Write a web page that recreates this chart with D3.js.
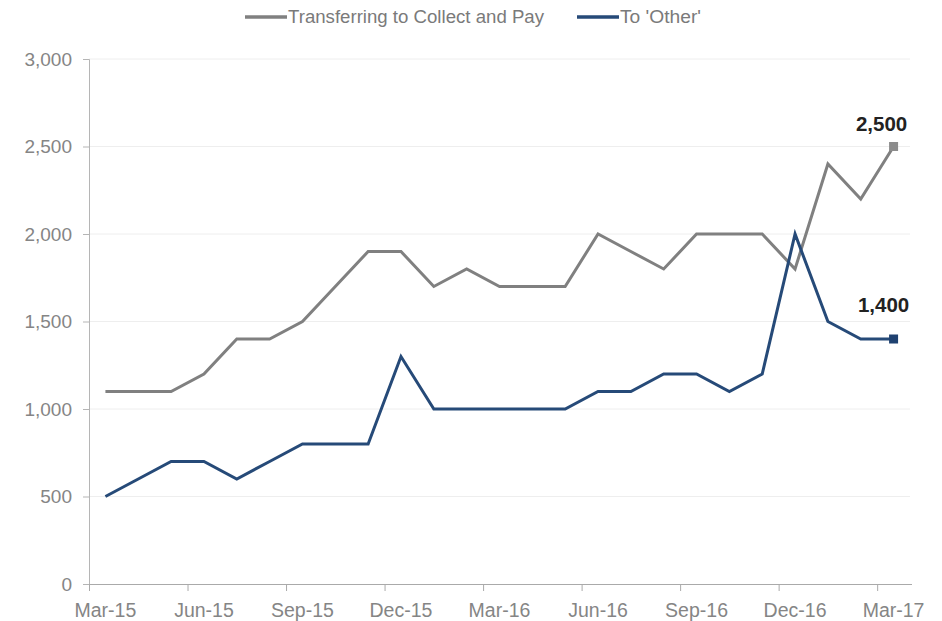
<!DOCTYPE html>
<html>
<head>
<meta charset="utf-8">
<script src="https://cdn.jsdelivr.net/npm/d3@7"></script>
<style>
  html, body { margin: 0; padding: 0; background: #fff; }
  svg { display: block; font-family: "Liberation Sans", Arial, sans-serif; }
</style>
</head>
<body>
<svg id="chart" width="942" height="621"></svg>
<script>
// Monthly periods, Mar-15 .. Mar-17
const months = [
  "Mar-15","Apr-15","May-15","Jun-15","Jul-15","Aug-15","Sep-15","Oct-15","Nov-15",
  "Dec-15","Jan-16","Feb-16","Mar-16","Apr-16","May-16","Jun-16","Jul-16","Aug-16",
  "Sep-16","Oct-16","Nov-16","Dec-16","Jan-17","Feb-17","Mar-17"
];

// Quarterly axis labels
const tickLabels = ["Mar-15","Jun-15","Sep-15","Dec-15","Mar-16","Jun-16","Sep-16","Dec-16","Mar-17"];

const collectAndPay = [
  1100, 1100, 1100, 1200, 1400, 1400, 1500, 1700, 1900,
  1900, 1700, 1800, 1700, 1700, 1700, 2000, 1900, 1800,
  2000, 2000, 2000, 1800, 2400, 2200, 2500
];

const toOther = [
  500, 600, 700, 700, 600, 700, 800, 800, 800,
  1300, 1000, 1000, 1000, 1000, 1000, 1100, 1100, 1200,
  1200, 1100, 1200, 2000, 1500, 1400, 1400
];

const seriesNames = ["Transferring to Collect and Pay", "To 'Other'"];
const yTicks = [0, 500, 1000, 1500, 2000, 2500, 3000];

const colors = { grey: "#808080", greyMarker: "#8c8c8c", blue: "#264a78", blueMarker: "#1f4170" };

const svg = d3.select("#chart");
const plot = { left: 89, right: 910, top: 59, bottom: 584 };

// Each month occupies a band; points sit at band centres, tick marks at band edges
const x = d3.scaleBand().domain(months).range([plot.left, plot.right]).paddingInner(0).paddingOuter(0);
const y = d3.scaleLinear().domain([0, 3000]).range([plot.bottom, plot.top]);
const cx = m => x(m) + x.bandwidth() / 2;

// Horizontal gridlines
svg.append("g")
  .selectAll("line")
  .data(yTicks.filter(d => d > 0))
  .join("line")
  .attr("x1", plot.left).attr("x2", plot.right)
  .attr("y1", d => y(d)).attr("y2", d => y(d))
  .attr("stroke", "#eeeeee").attr("stroke-width", 1);

// Y axis
const yAxis = svg.append("g")
  .attr("transform", `translate(${plot.left},0)`)
  .call(d3.axisLeft(y).tickValues(yTicks).tickSize(6).tickPadding(11).tickFormat(d3.format(",")));
yAxis.select(".domain").attr("stroke", "#b5b5b5");
yAxis.selectAll(".tick line").attr("stroke", "#b5b5b5");
yAxis.selectAll(".tick text")
  .attr("fill", "#858585").attr("font-size", 19).attr("font-family", "'Liberation Sans', Arial, sans-serif");

// X axis: line plus tick marks at the start of each labelled quarter
const xg = svg.append("g").attr("transform", `translate(0,${plot.bottom})`);
xg.append("line").attr("x1", plot.left).attr("x2", plot.right + 2).attr("y1", 0.5).attr("y2", 0.5)
  .attr("stroke", "#aaaaaa");
xg.selectAll("line.tk")
  .data(tickLabels)
  .join("line")
  .attr("class", "tk")
  .attr("x1", d => x(d) + 0.5).attr("x2", d => x(d) + 0.5)
  .attr("y1", 0).attr("y2", 7)
  .attr("stroke", "#aaaaaa");
xg.selectAll("text")
  .data(tickLabels)
  .join("text")
  .attr("x", d => cx(d))
  .attr("y", 33)
  .attr("text-anchor", "middle")
  .attr("fill", "#858585")
  .attr("font-size", 19.5)
  .text(d => d);

// Lines
const line = d3.line().x((d, i) => cx(months[i])).y(d => y(d));

svg.append("path").datum(collectAndPay)
  .attr("d", line).attr("fill", "none")
  .attr("stroke", colors.grey).attr("stroke-width", 3).attr("stroke-linejoin", "miter");

svg.append("path").datum(toOther)
  .attr("d", line).attr("fill", "none")
  .attr("stroke", colors.blue).attr("stroke-width", 3).attr("stroke-linejoin", "miter");

// End-point markers and value labels
const last = months.length - 1;
const ends = [
  { v: collectAndPay[last], fill: colors.greyMarker, dx: -12, dy: -16 },
  { v: toOther[last], fill: colors.blueMarker, dx: -10, dy: -27 }
];
svg.selectAll("rect.end")
  .data(ends)
  .join("rect")
  .attr("class", "end")
  .attr("x", cx(months[last]) - 4.5).attr("y", d => y(d.v) - 4.5)
  .attr("width", 9).attr("height", 9)
  .attr("fill", d => d.fill);
svg.selectAll("text.val")
  .data(ends)
  .join("text")
  .attr("class", "val")
  .attr("x", d => cx(months[last]) + d.dx)
  .attr("y", d => y(d.v) + d.dy)
  .attr("text-anchor", "middle")
  .attr("font-size", 20.5).attr("font-weight", "bold").attr("fill", "#222")
  .text(d => d3.format(",")(d.v));

// Legend
const legend = [
  { name: seriesNames[0], color: colors.grey, x: 245, w: 256 },
  { name: seriesNames[1], color: colors.blue, x: 577, w: 81 }
];
const lg = svg.append("g");
legend.forEach(d => {
  lg.append("line").attr("x1", d.x).attr("x2", d.x + 42).attr("y1", 17).attr("y2", 17)
    .attr("stroke", d.color).attr("stroke-width", 3.5);
  lg.append("text").attr("x", d.x + 43).attr("y", 23)
    .attr("font-size", 17.5).attr("fill", "#7a7a7a")
    .attr("textLength", d.w).attr("lengthAdjust", "spacingAndGlyphs")
    .text(d.name);
});
</script>
</body>
</html>
